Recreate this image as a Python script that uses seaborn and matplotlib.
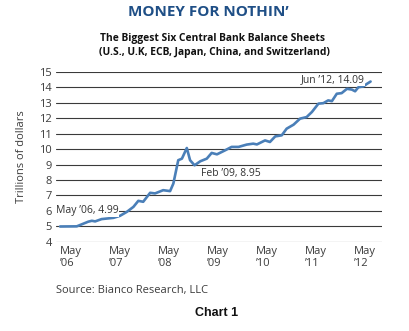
import matplotlib
matplotlib.use("Agg")
import matplotlib.pyplot as plt
import seaborn as sns
import pandas as pd

# Months since May 2006
months = [0, 4.1, 6.9, 7.8, 8.6, 10.2, 13.1, 14.7, 16.4, 18.0, 19.2, 20.4, 22.1, 23.3,
          25.3, 27.0, 27.8, 29.0, 29.9, 31.1, 31.9, 33.0, 34.4, 36.0, 37.2, 38.5,
          40.5, 42.1, 43.8, 45.8, 47.4, 48.3, 50.3, 51.5, 52.8, 54.4, 55.6, 57.3,
          58.9, 60.5, 61.8, 63.4, 64.6, 65.8, 66.7, 67.9, 69.1, 70.4, 71.6, 72.4,
          73.2, 74.4, 75.3, 76.2]
values = [4.99, 5.0, 5.3, 5.36, 5.32, 5.47, 5.55, 5.68, 5.94, 6.26, 6.65, 6.59, 7.17, 7.13,
          7.34, 7.28, 7.77, 9.28, 9.38, 10.07, 9.28, 8.95, 9.21, 9.38, 9.75, 9.66,
          9.92, 10.14, 10.14, 10.29, 10.35, 10.30, 10.56, 10.46, 10.82, 10.89, 11.32, 11.58,
          11.97, 12.07, 12.4, 12.94, 12.97, 13.15, 13.1, 13.58, 13.62, 13.9, 13.85, 13.74,
          14.0, 14.05, 14.22, 14.37]

tick_months = [0, 12, 24, 36, 48, 60, 72]
tick_labels = ["May\n\u201906", "May\n\u201907", "May\n\u201908", "May\n\u201909",
               "May\n\u201910", "May\n\u201911", "May\n\u201912"]
y_ticks = list(range(4, 16))

annotations = [("May \u201906, 4.99", -1.0, 6.02, "left"),
               ("Feb \u201909, 8.95", 34.5, 8.44, "left"),
               ("Jun \u201912, 14.09", 74.8, 14.5, "right")]

df = pd.DataFrame({"month": months, "value": values})

sns.set_style("white")
plt.rcParams["font.family"] = ["Open Sans", "DejaVu Sans"]

fig = plt.figure(figsize=(4.10, 3.31), dpi=100)
ax = fig.add_axes([56 / 410, (331 - 241.8) / 331, (382 - 56) / 410, (241.8 - 71.8) / 331])

for yv in y_ticks:
    ax.axhline(yv, color="#3a3a3a", lw=0.8, zorder=1)

sns.lineplot(data=df, x="month", y="value", ax=ax, color="#4a7fb8", lw=1.9, zorder=3)

ax.set_xlim(-1, 79)
ax.set_ylim(4, 15)
ax.set_yticks(y_ticks)
ax.set_yticklabels([str(v) for v in y_ticks], fontsize=8, color="#3c3c3c")
ax.set_xticks(tick_months)
ax.set_xticklabels(tick_labels, fontsize=8, color="#3c3c3c", ha="left", linespacing=1.1)
ax.tick_params(axis="both", length=0, pad=3)
ax.tick_params(axis="x", pad=3)
for s in ax.spines.values():
    s.set_visible(False)
ax.set_xlabel("")
ax.set_ylabel("Trillions of dollars", fontsize=8, color="#3c3c3c", labelpad=9)

for txt, xx, yy, ha in annotations:
    ax.text(xx, yy, txt, ha=ha, va="center", fontsize=7.5, color="#333333", zorder=4,
            bbox=dict(boxstyle="square,pad=0.05", fc="white", ec="none"))

fig.text(208 / 410, 1 - 12 / 331, "MONEY FOR NOTHIN\u2019", ha="center", va="center",
         fontsize=11, fontweight="bold", color="#1f4f86")
fig.text(213 / 410, 1 - 39 / 331, "The Biggest Six Central Bank Balance Sheets",
         ha="center", va="center", fontsize=7.4, fontweight="bold", color="#111111")
fig.text(214 / 410, 1 - 52 / 331, "(U.S., U.K, ECB, Japan, China, and Switzerland)",
         ha="center", va="center", fontsize=7.4, fontweight="bold", color="#111111")
fig.text(56 / 410, 1 - 290 / 331, "Source: Bianco Research, LLC", ha="left", va="center",
         fontsize=8, color="#3c3c3c")
fig.text(217 / 410, 1 - 313 / 331, "Chart 1", ha="center", va="center",
         fontsize=9, fontweight="bold", color="#111111", family="Liberation Sans")

fig.savefig("out.png", dpi=100)
